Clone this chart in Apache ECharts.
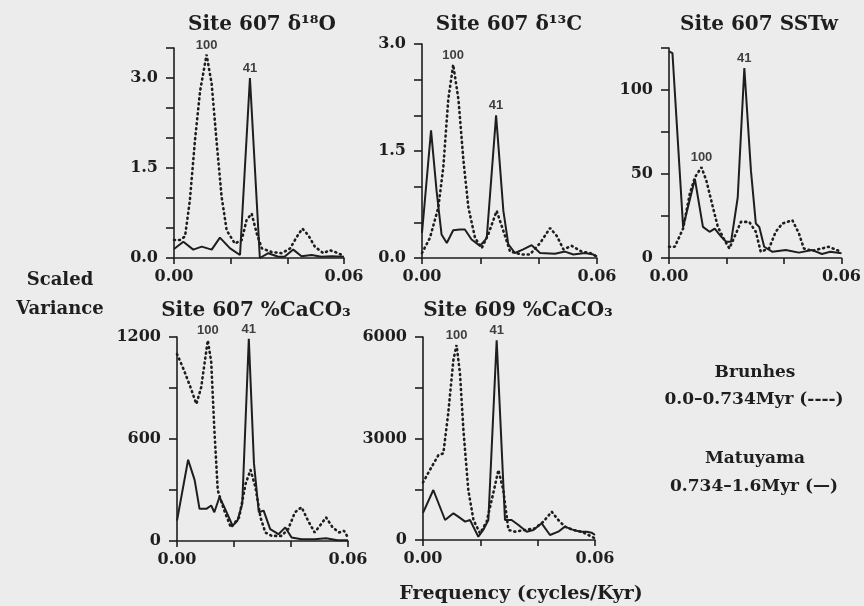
<!DOCTYPE html>
<html>
<head>
<meta charset="utf-8">
<script src="https://cdn.jsdelivr.net/npm/echarts@6/dist/echarts.min.js"></script>
</head>
<body style="margin:0;background:#ececec;">
<div id="main" style="width:864px;height:606px;"></div>
<script>
// spectra: [frequency (cycles/kyr), scaled variance]
var d18O_brunhes = [[0,0.3],[0.0021,0.3],[0.0039,0.36],[0.0056,0.96],[0.0074,1.96],[0.0092,2.78],[0.0115,3.39],[0.0133,2.9],[0.015,1.96],[0.0168,1.02],[0.0186,0.46],[0.0215,0.24],[0.0239,0.3],[0.0256,0.63],[0.0274,0.74],[0.0292,0.41],[0.031,0.16],[0.0345,0.1],[0.038,0.08],[0.041,0.16],[0.0433,0.35],[0.0453,0.49],[0.0474,0.38],[0.0497,0.19],[0.0527,0.08],[0.055,0.13],[0.058,0.08],[0.06,0.03]];
var d18O_matuyama = [[0,0.15],[0.0033,0.27],[0.0068,0.14],[0.0098,0.19],[0.0133,0.14],[0.0162,0.34],[0.0198,0.16],[0.0233,0.05],[0.0268,3.0],[0.0303,0.0],[0.0333,0.08],[0.0368,0.02],[0.039,0.02],[0.0421,0.14],[0.045,0.03],[0.0486,0.05],[0.052,0.02],[0.0556,0.03],[0.06,0.02]];
var d18O_peaks = [[0.0115,3.39,'100'],[0.0268,3.0,'41']];

var d13C_brunhes = [[0,0.07],[0.0027,0.28],[0.0056,0.71],[0.0073,1.27],[0.009,2.22],[0.0107,2.71],[0.0125,2.22],[0.0142,1.37],[0.0159,0.71],[0.0182,0.28],[0.0205,0.14],[0.0227,0.33],[0.0256,0.66],[0.0279,0.38],[0.0302,0.09],[0.0342,0.05],[0.037,0.05],[0.0405,0.21],[0.0439,0.42],[0.0462,0.31],[0.0485,0.12],[0.0513,0.17],[0.0547,0.09],[0.0576,0.07],[0.06,0.02]];
var d13C_matuyama = [[0,0.35],[0.0031,1.79],[0.005,0.94],[0.0067,0.33],[0.0085,0.21],[0.0107,0.39],[0.013,0.4],[0.0147,0.4],[0.017,0.26],[0.0199,0.17],[0.0222,0.28],[0.0254,2.0],[0.0279,0.66],[0.0296,0.19],[0.0319,0.07],[0.0347,0.12],[0.0376,0.18],[0.0405,0.07],[0.0456,0.06],[0.049,0.09],[0.0519,0.05],[0.0559,0.07],[0.0587,0.05],[0.06,0.02]];
var d13C_peaks = [[0.0107,2.71,'100'],[0.0254,2.0,'41']];

var sst_brunhes = [[0,6.7],[0.002,6.7],[0.0049,17.5],[0.0072,38],[0.009,48],[0.0113,54],[0.013,46],[0.0153,30],[0.017,18.5],[0.0193,10.6],[0.021,5.7],[0.0233,14.6],[0.025,21.5],[0.0279,21.5],[0.0302,15.6],[0.0319,3.7],[0.0348,5.7],[0.0371,15.6],[0.0394,20.5],[0.0429,22.5],[0.0452,14.6],[0.0469,5.7],[0.0498,4.3],[0.0532,5.7],[0.0555,6.7],[0.0584,4.7],[0.06,3.7]];
var sst_matuyama = [[0,123],[0.0012,122],[0.0049,18.5],[0.009,47],[0.0118,18.5],[0.0141,15.6],[0.0159,17.5],[0.0182,12.6],[0.0199,9.7],[0.0216,9.7],[0.0239,36],[0.0262,113],[0.0285,52],[0.0302,20.5],[0.0314,18.5],[0.0331,6.7],[0.036,3.7],[0.0406,4.7],[0.0452,3.2],[0.0498,4.7],[0.0532,2.4],[0.0561,3.7],[0.06,2.8]];
var sst_peaks = [[0.0113,54,'100'],[0.0262,113,'41']];

var caco3_607_brunhes = [[0,1100],[0.0022,1015],[0.0045,915],[0.0068,806],[0.0085,905],[0.0108,1180],[0.012,1055],[0.0131,657],[0.0143,299],[0.0154,239],[0.0166,179],[0.0189,80],[0.0218,139],[0.0241,338],[0.0258,418],[0.0275,318],[0.0293,139],[0.031,50],[0.0333,30],[0.0367,30],[0.039,70],[0.0414,169],[0.0437,199],[0.046,119],[0.0483,50],[0.0506,100],[0.0523,139],[0.0546,80],[0.0569,50],[0.0586,60],[0.06,20]];
var caco3_607_matuyama = [[0,120],[0.0039,478],[0.0062,358],[0.0079,189],[0.0103,189],[0.012,209],[0.0131,169],[0.0149,259],[0.0166,199],[0.0195,90],[0.0212,119],[0.0229,219],[0.0252,1190],[0.027,458],[0.0287,169],[0.0304,179],[0.0327,70],[0.0356,40],[0.038,80],[0.0402,20],[0.0437,10],[0.0483,10],[0.0523,16],[0.0563,4],[0.06,4]];
var caco3_607_peaks = [[0.0108,1180,'100'],[0.0252,1190,'41']];

var caco3_609_brunhes = [[0,1700],[0.0024,2069],[0.0054,2512],[0.0071,2561],[0.0088,3743],[0.0106,5319],[0.0117,5762],[0.0129,4925],[0.0141,3250],[0.0158,1478],[0.0176,591],[0.0199,197],[0.0222,542],[0.0245,1379],[0.0263,2069],[0.028,1478],[0.0298,296],[0.0321,246],[0.0356,296],[0.0391,345],[0.042,542],[0.0449,837],[0.0472,591],[0.0495,394],[0.0524,296],[0.0554,246],[0.0577,148],[0.06,49]];
var caco3_609_matuyama = [[0,800],[0.0036,1478],[0.0077,591],[0.0106,788],[0.0123,690],[0.0147,542],[0.0164,591],[0.0193,98],[0.021,296],[0.0228,591],[0.0257,5900],[0.0286,591],[0.0309,591],[0.0333,443],[0.0362,246],[0.0385,296],[0.0414,493],[0.0443,148],[0.0472,246],[0.0495,394],[0.0519,315],[0.0548,246],[0.0571,246],[0.0588,217],[0.06,148]];
var caco3_609_peaks = [[0.0117,5762,'100'],[0.0257,5900,'41']];

var panelTitles = ['Site 607 δ¹⁸O', 'Site 607 δ¹³C', 'Site 607 SSTw', 'Site 607 %CaCO₃', 'Site 609 %CaCO₃'];
var yMax = [3.5, 3.0, 125, 1200, 6000];
var yTickStep = [0.5, 0.5, 25, 300, 1500];
var yLabelStep = [1.5, 1.5, 50, 600, 3000];
var yDecimals = [1, 1, 0, 0, 0];

var panels = [
  [d18O_brunhes, d18O_matuyama, d18O_peaks],
  [d13C_brunhes, d13C_matuyama, d13C_peaks],
  [sst_brunhes, sst_matuyama, sst_peaks],
  [caco3_607_brunhes, caco3_607_matuyama, caco3_607_peaks],
  [caco3_609_brunhes, caco3_609_matuyama, caco3_609_peaks]
];

// plot boxes measured on the figure
var boxes = [
  {left: 174, top: 48, width: 170, height: 210},
  {left: 422, top: 44, width: 175, height: 214},
  {left: 669, top: 48, width: 174, height: 210},
  {left: 177, top: 337, width: 171, height: 204},
  {left: 423, top: 337, width: 172, height: 203}
];
var titlePos = [[262, 25], [509, 25], [759, 25], [256, 311], [518, 311]];

var ink = '#1e1e1e';
var serif = 'DejaVu Serif';

var grid = [], xAxis = [], yAxis = [], series = [], graphic = [];

panels.forEach(function(p, i) {
  grid.push(boxes[i]);
  xAxis.push({
    type: 'value', gridIndex: i, min: 0, max: 0.06, interval: 0.02,
    axisLine: {show: true, lineStyle: {color: ink, width: 1.6}},
    axisTick: {show: true, length: 6, lineStyle: {color: ink, width: 1.6}},
    splitLine: {show: false},
    axisLabel: {
      show: true, showMinLabel: true, showMaxLabel: true, margin: 11,
      fontFamily: serif, fontWeight: 'bold', fontSize: 16, color: ink,
      formatter: function(v) { return (v === 0 || v > 0.059) ? v.toFixed(2) : ''; }
    }
  });
  yAxis.push({
    type: 'value', gridIndex: i, min: 0, max: yMax[i], interval: yTickStep[i],
    axisLine: {show: true, lineStyle: {color: ink, width: 1.6}},
    axisTick: {show: true, length: 8, lineStyle: {color: ink, width: 1.6}},
    splitLine: {show: false},
    axisLabel: {
      margin: 16, fontFamily: serif, fontWeight: 'bold', fontSize: 16, color: ink,
      formatter: function(v) {
        var r = v / yLabelStep[i];
        return Math.abs(r - Math.round(r)) < 1e-6 ? v.toFixed(yDecimals[i]) : '';
      }
    }
  });
  series.push({
    name: 'Brunhes', type: 'line', xAxisIndex: i, yAxisIndex: i, data: p[0],
    showSymbol: false, symbol: 'none', clip: false,
    lineStyle: {color: ink, width: 2.6, type: [1, 4], cap: 'round'}
  });
  series.push({
    name: 'Matuyama', type: 'line', xAxisIndex: i, yAxisIndex: i, data: p[1],
    showSymbol: false, symbol: 'none', clip: false,
    lineStyle: {color: ink, width: 2}
  });
  series.push({
    type: 'scatter', xAxisIndex: i, yAxisIndex: i, data: p[2],
    symbolSize: 0, clip: false, silent: true,
    label: {
      show: true, position: 'top', distance: 3,
      fontFamily: 'Liberation Sans', fontWeight: 'bold', fontSize: 13, color: '#111',
      formatter: function(d) { return d.value[2]; }
    }
  });
  graphic.push({
    type: 'text', x: titlePos[i][0], y: titlePos[i][1],
    style: {text: panelTitles[i], font: 'bold 20px "DejaVu Serif"', fill: ink, align: 'center', verticalAlign: 'middle'}
  });
});

function label(txt, x, y, size) {
  return {type: 'text', x: x, y: y,
    style: {text: txt, font: 'bold ' + size + 'px "DejaVu Serif"', fill: ink, align: 'center', verticalAlign: 'middle'}};
}
graphic.push(label('Scaled', 60, 280, 18));
graphic.push(label('Variance', 60, 309, 18));
graphic.push(label('Brunhes', 755, 373, 17));
graphic.push(label('0.0–0.734Myr (----)', 754, 400, 17));
graphic.push(label('Matuyama', 755, 459, 17));
graphic.push(label('0.734–1.6Myr (—)', 754, 487, 17));
graphic.push(label('Frequency (cycles/Kyr)', 521, 594, 19));

var chart = echarts.init(document.getElementById('main'));
chart.setOption({
  backgroundColor: '#ececec',
  animation: false,
  grid: grid,
  xAxis: xAxis,
  yAxis: yAxis,
  series: series,
  graphic: graphic
});
</script>
</body>
</html>
